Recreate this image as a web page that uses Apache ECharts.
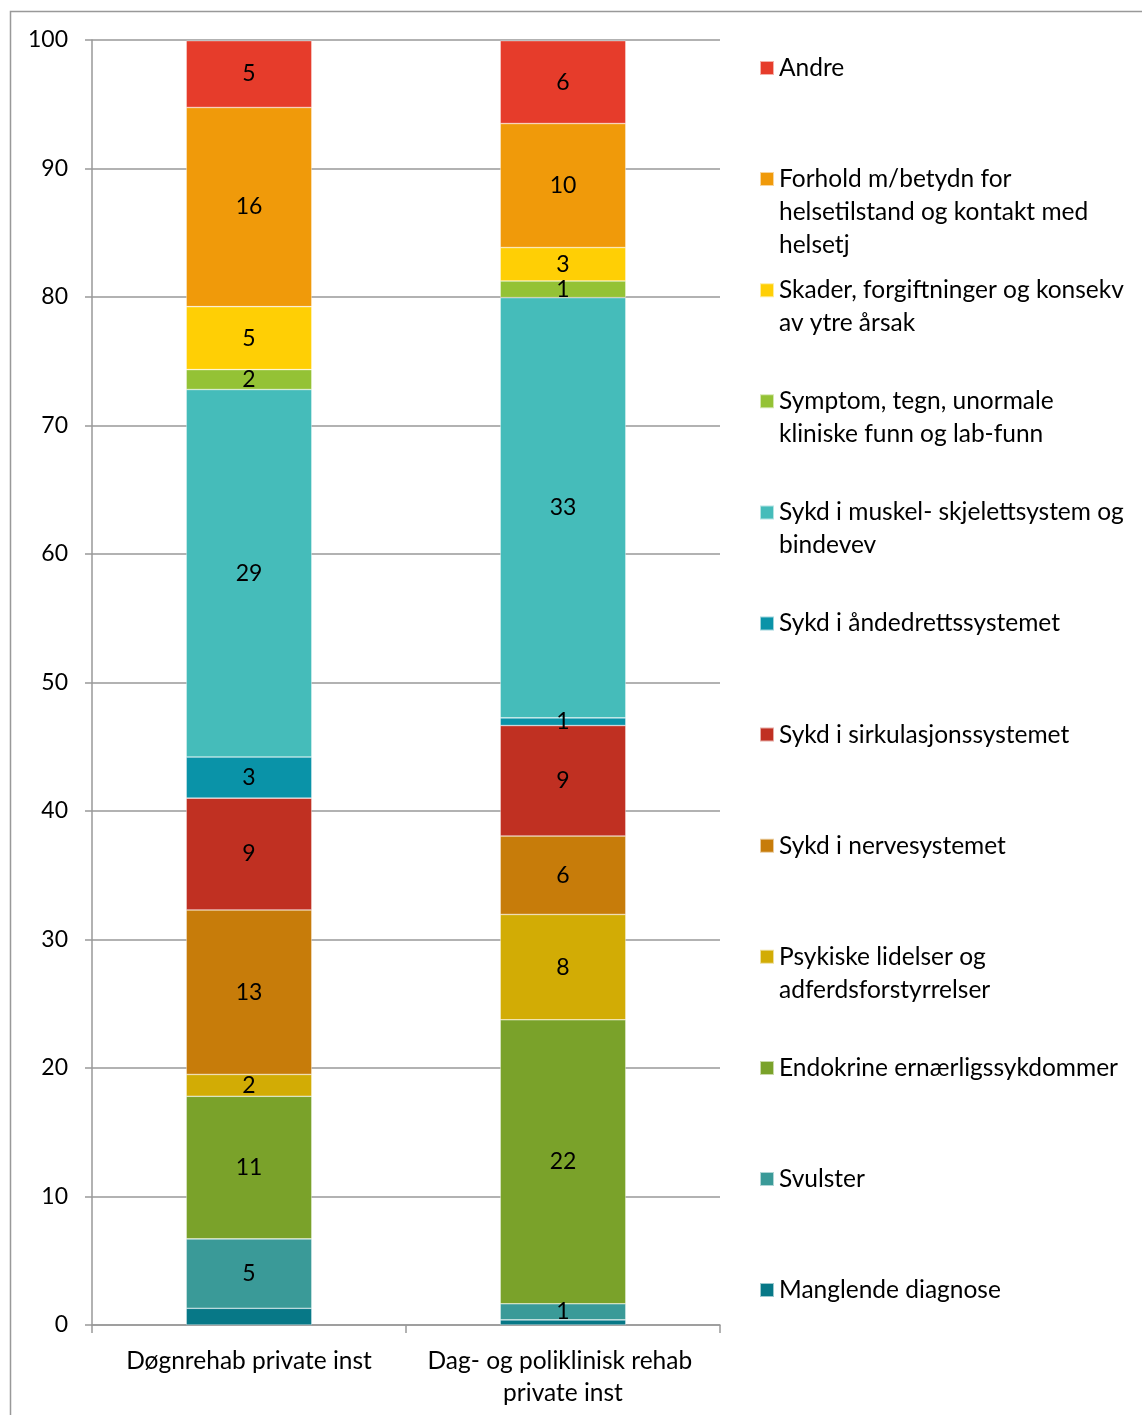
<!DOCTYPE html>
<html>
<head>
<meta charset="utf-8">
<script src="https://cdn.jsdelivr.net/npm/echarts@6/dist/echarts.min.js"></script>
<style>
  html, body { margin: 0; padding: 0; background: #fff; }
  #chart { width: 1142px; height: 1415px; }
</style>
</head>
<body>
<div id="chart"></div>
<script>
// Categories on the x axis
const categories = ['Døgnrehab private inst', 'Dag- og poliklinisk rehab private inst'];

// Share (%) per diagnosis group, one value per category
const manglende   = [1.3, 0.4];
const svulster    = [5.4, 1.25];
const endokrine   = [11.1, 22.1];
const psykiske    = [1.7, 8.2];
const nerve       = [12.8, 6.1];
const sirkulasjon = [8.7, 8.6];
const andedrett   = [3.2, 0.6];
const muskel      = [28.6, 32.7];
const symptom     = [1.55, 1.3];
const skader      = [4.9, 2.6];
const forhold     = [15.5, 9.65];
const andre       = [5.2, 6.45];

// Y axis ticks
const yMin = 0, yMax = 100, yStep = 10;

// Stacking order, bottom to top
const groups = [
  { name: 'Manglende diagnose', data: manglende, color: '#077887', wrapped: 'Manglende diagnose', label: false },
  { name: 'Svulster', data: svulster, color: '#3A9A98', wrapped: 'Svulster' },
  { name: 'Endokrine ernærligssykdommer', data: endokrine, color: '#7AA22A', wrapped: 'Endokrine ernærligssykdommer' },
  { name: 'Psykiske lidelser og adferdsforstyrrelser', data: psykiske, color: '#D2AC05', wrapped: 'Psykiske lidelser og\nadferdsforstyrrelser' },
  { name: 'Sykd i nervesystemet', data: nerve, color: '#C77C0A', wrapped: 'Sykd i nervesystemet' },
  { name: 'Sykd i sirkulasjonssystemet', data: sirkulasjon, color: '#C03022', wrapped: 'Sykd i sirkulasjonssystemet' },
  { name: 'Sykd i åndedrettssystemet', data: andedrett, color: '#0A93A8', wrapped: 'Sykd i åndedrettssystemet' },
  { name: 'Sykd i muskel- skjelettsystem og bindevev', data: muskel, color: '#45BCBA', wrapped: 'Sykd i muskel- skjelettsystem og\nbindevev' },
  { name: 'Symptom, tegn, unormale kliniske funn og lab-funn', data: symptom, color: '#94C235', wrapped: 'Symptom, tegn, unormale\nkliniske funn og lab-funn' },
  { name: 'Skader, forgiftninger og konsekv av ytre årsak', data: skader, color: '#FFCF05', wrapped: 'Skader, forgiftninger og konsekv\nav ytre årsak' },
  { name: 'Forhold m/betydn for helsetilstand og kontakt med helsetj', data: forhold, color: '#F09A0A', wrapped: 'Forhold m/betydn for\nhelsetilstand og kontakt med\nhelsetj' },
  { name: 'Andre', data: andre, color: '#E63C2B', wrapped: 'Andre' }
];

const FONT = 'Lato, "Open Sans", sans-serif';
const TEXT_SIZE = 24.5;
const NUM_SIZE = 23;
const LINE_H = 33;
const SQ = 14;

// Legend: top group first, one block per group.
// The icon box is as tall as the text block, with the square drawn at the first line.
const legendOrder = groups.slice().reverse();
const legends = legendOrder.map((g, i) => {
  const lines = g.wrapped.split('\n').length;
  const boxH = lines * LINE_H;
  const sqTop = (LINE_H - SQ) / 2;
  return {
    data: [g.name],
    orient: 'vertical',
    left: 759,
    top: 67 + i * 111.1 - LINE_H / 2,
    itemWidth: SQ,
    itemHeight: boxH,
    itemGap: 0,
    padding: 0,
    selectedMode: false,
    icon: 'path://M0,0L0,' + boxH + 'M0,' + sqTop + 'L' + SQ + ',' + sqTop + 'L' + SQ + ',' + (sqTop + SQ) + 'L0,' + (sqTop + SQ) + 'Z',
    formatter: () => g.wrapped,
    textStyle: {
      fontFamily: FONT,
      fontSize: TEXT_SIZE,
      color: '#000',
      lineHeight: LINE_H
    }
  };
});

const series = groups.map(g => ({
  name: g.name,
  type: 'bar',
  stack: 'total',
  barWidth: '40%',
  data: g.data,
  itemStyle: { color: g.color, borderColor: 'rgba(255,255,255,0.6)', borderWidth: 0.6 },
  label: {
    show: g.label !== false,
    position: 'inside',
    fontFamily: FONT,
    fontSize: NUM_SIZE,
    color: '#000',
    formatter: p => String(Math.round(p.value))
  },
  emphasis: { disabled: true }
}));

const chart = echarts.init(document.getElementById('chart'), null, { renderer: 'canvas' });
chart.setOption({
  animation: false,
  backgroundColor: '#fff',
  textStyle: { fontFamily: FONT },
  grid: { left: 92, right: 422, top: 40, bottom: 90, containLabel: false },
  legend: legends,
  xAxis: {
    type: 'category',
    data: categories,
    axisLine: { lineStyle: { color: '#999', width: 1.5 } },
    axisTick: { show: true, length: 8, lineStyle: { color: '#999', width: 1.5 } },
    axisLabel: {
      fontFamily: FONT, fontSize: TEXT_SIZE, color: '#000', margin: 20,
      lineHeight: 32, width: 300, overflow: 'break', interval: 0
    }
  },
  yAxis: {
    type: 'value',
    min: yMin, max: yMax, interval: yStep,
    axisLine: { show: true, lineStyle: { color: '#999', width: 1.5 } },
    axisTick: { show: true, length: 7, lineStyle: { color: '#999', width: 1.5 } },
    axisLabel: { fontFamily: FONT, fontSize: NUM_SIZE, color: '#000', margin: 24 },
    splitLine: { lineStyle: { color: '#999', width: 1.5 } }
  },
  graphic: [{
    type: 'rect',
    shape: { x: 10.5, y: 11.5, width: 1300, height: 1600 },
    style: { fill: 'none', stroke: '#999', lineWidth: 1.5 },
    silent: true,
    z: -1
  }],
  series: series
});
</script>
</body>
</html>
